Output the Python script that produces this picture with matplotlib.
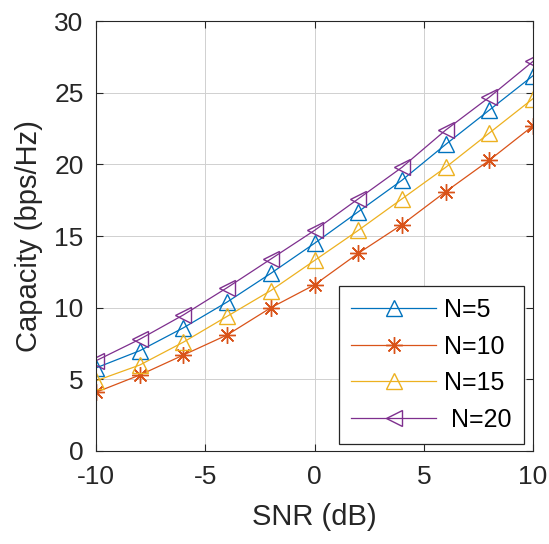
import matplotlib
matplotlib.use("Agg")
import matplotlib.pyplot as plt

plt.rcParams['font.family'] = ['Liberation Sans', 'DejaVu Sans']
plt.rcParams['axes.unicode_minus'] = False

snr = [-10, -8, -6, -4, -2, 0, 2, 4, 6, 8, 10]
cap_n5 = [5.8, 7.0, 8.6, 10.4, 12.4, 14.5, 16.7, 18.9, 21.4, 23.8, 26.2]
cap_n10 = [4.1, 5.3, 6.7, 8.1, 10.0, 11.6, 13.8, 15.8, 18.1, 20.3, 22.7]
cap_n15 = [4.9, 6.0, 7.6, 9.4, 11.2, 13.3, 15.4, 17.6, 19.8, 22.2, 24.6]
cap_n20 = [6.3, 7.8, 9.5, 11.4, 13.4, 15.4, 17.6, 19.8, 22.4, 24.7, 27.2]
labels = ['N=5', 'N=10', 'N=15', ' N=20']
xticks = [-10, -5, 0, 5, 10]
yticks = [0, 5, 10, 15, 20, 25, 30]

fig = plt.figure(figsize=(5.49, 5.44), dpi=100)
ax = fig.add_axes([0.175, 0.171, 0.796, 0.790])

ax.plot(snr, cap_n5, color='#0072BD', marker='^', markersize=12, markerfacecolor='none', lw=0.9, label=labels[0])
ax.plot(snr, cap_n10, color='#D95319', marker=(8, 2, 0), markersize=12, markerfacecolor='none', lw=0.9, label=labels[1])
ax.plot(snr, cap_n15, color='#EDB120', marker='^', markersize=12, markerfacecolor='none', lw=0.9, label=labels[2])
ax.plot(snr, cap_n20, color='#7E2F8E', marker='<', markersize=12, markerfacecolor='none', lw=0.9, label=labels[3])

ax.set_xlim(-10, 10)
ax.set_ylim(0, 30)
ax.set_xticks(xticks)
ax.set_yticks(yticks)
ax.grid(True, color='#d0d0d0', lw=0.7)
ax.set_axisbelow(True)
ax.tick_params(direction='in', top=True, right=True, labelsize=19, colors='#262626', length=5)
ax.tick_params(axis='x', pad=10)
ax.tick_params(axis='y', pad=9)
for s in ax.spines.values():
    s.set_color('#262626')
    s.set_linewidth(0.8)

ax.set_xlabel('SNR (dB)', fontsize=21, color='#262626', labelpad=10)
ax.set_ylabel('Capacity (bps/Hz)', fontsize=21, color='#262626', labelpad=8)

leg = ax.legend(loc='lower right', bbox_to_anchor=(0.979, 0.016), fontsize=18,
                handlelength=3.4, labelspacing=0.5, handletextpad=0.3,
                borderpad=0.5, borderaxespad=0, fancybox=False, framealpha=1,
                edgecolor='#262626')
leg.get_frame().set_linewidth(0.9)

fig.savefig('out.png', dpi=100)
